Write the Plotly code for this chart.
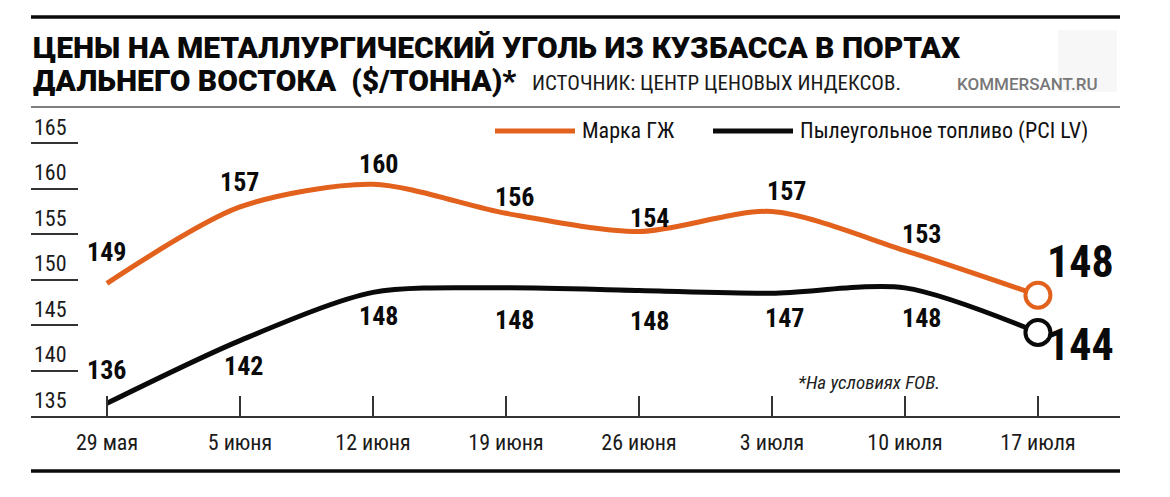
import plotly.graph_objects as go

# data
dates = ['29 мая', '5 июня', '12 июня', '19 июня', '26 июня', '3 июля', '10 июля', '17 июля']
gzh_price = [149.6, 158.0, 160.5, 157.3, 155.3, 157.5, 153.2, 148.3]   # Марка ГЖ, as drawn
gzh_label = [149, 157, 160, 156, 154, 157, 153, 148]                  # printed values
pci_price = [136.4, 143.3, 148.6, 149.1, 148.8, 148.5, 149.1, 144.2]   # PCI LV, as drawn
pci_label = [136, 142, 148, 148, 148, 147, 148, 144]
y_ticks = [135, 140, 145, 150, 155, 160, 165]

ORANGE = '#e2611d'
BLACK = '#0a0a0a'
NARROW = 'Roboto Condensed, Liberation Sans Narrow, DejaVu Sans Condensed, Arial Narrow, Roboto, sans-serif'
HEAVY = 'Roboto, Liberation Sans, sans-serif'

OFF = 8  # the page body adds an 8px margin
W, H = 1170 - OFF, 497 - OFF
L, R, T, B = 31 - OFF, 50, 107 - OFF, 81

def px(x):  # page pixel -> paper x
    return (x - OFF - L) / (W - L - R)

def py(y):  # page pixel -> paper y
    return (H - B - (y - OFF)) / (H - T - B)

# label offsets (px) relative to each point
gzh_dx = [0, 0, 6, 9, 11, 15, 17, 43]
gzh_dy = [31, 25, 20, 16, 14, 21, 17, 33]
pci_dx = [0, 4, 6, 9, 11, 13, 17, 43]
pci_dy = [33, -25, -24, -32, -30, -25, -30, -13]

fig = go.Figure()

fig.add_trace(go.Scatter(x=dates, y=gzh_price, mode='lines', name='Марка ГЖ',
                         line=dict(color=ORANGE, width=5, shape='spline', smoothing=0.8)))
fig.add_trace(go.Scatter(x=dates, y=pci_price, mode='lines', name='Пылеугольное топливо (PCI LV)',
                         line=dict(color=BLACK, width=5, shape='spline', smoothing=0.8)))
# open circles on the last week
fig.add_trace(go.Scatter(x=dates[-1:], y=gzh_price[-1:], mode='markers',
                         marker=dict(size=25, color='white', line=dict(color=ORANGE, width=4))))
fig.add_trace(go.Scatter(x=dates[-1:], y=pci_price[-1:], mode='markers',
                         marker=dict(size=25, color='white', line=dict(color=BLACK, width=4))))

annotations = []
n = len(dates)
for i in range(n):
    big = i == n - 1
    annotations.append(dict(x=dates[i], y=gzh_price[i], text=str(gzh_label[i]), showarrow=False,
                            xshift=gzh_dx[i], yshift=gzh_dy[i],
                            font=dict(family=NARROW, size=44 if big else 26, color=BLACK, weight='bold')))
    annotations.append(dict(x=dates[i], y=pci_price[i], text=str(pci_label[i]), showarrow=False,
                            xshift=pci_dx[i], yshift=pci_dy[i],
                            font=dict(family=NARROW, size=44 if big else 26, color=BLACK, weight='bold')))

# title block
annotations += [
    dict(xref='paper', yref='paper', x=px(31), y=py(48), xanchor='left', yanchor='middle', showarrow=False,
         text='ЦЕНЫ НА МЕТАЛЛУРГИЧЕСКИЙ УГОЛЬ ИЗ КУЗБАССА В ПОРТАХ',
         font=dict(family=HEAVY, size=30, color=BLACK, weight=900)),
    dict(xref='paper', yref='paper', x=px(31), y=py(80), xanchor='left', yanchor='middle', showarrow=False,
         text='ДАЛЬНЕГО ВОСТОКА  ($/ТОННА)*',
         font=dict(family=HEAVY, size=30, color=BLACK, weight=900)),
    dict(xref='paper', yref='paper', x=px(530), y=py(83), xanchor='left', yanchor='middle', showarrow=False,
         text='ИСТОЧНИК: ЦЕНТР ЦЕНОВЫХ ИНДЕКСОВ.',
         font=dict(family=NARROW, size=21, color='#1a1a1a')),
    dict(xref='paper', yref='paper', x=px(955), y=py(84), xanchor='left', yanchor='middle', showarrow=False,
         text='KOMMERSANT.RU',
         font=dict(family=HEAVY, size=17, color='#777777', weight=500)),
    # legend
    dict(xref='paper', yref='paper', x=px(580), y=py(131), xanchor='left', yanchor='middle', showarrow=False,
         text='Марка ГЖ', font=dict(family=NARROW, size=22, color='#111111')),
    dict(xref='paper', yref='paper', x=px(798), y=py(131), xanchor='left', yanchor='middle', showarrow=False,
         text='Пылеугольное топливо (PCI LV)', font=dict(family=NARROW, size=22, color='#111111')),
    # footnote
    dict(xref='paper', yref='paper', x=px(796), y=py(382), xanchor='left', yanchor='middle', showarrow=False,
         text='<i>*На условиях FOB.</i>', font=dict(family=NARROW, size=19, color='#222222')),
]

shapes = [
    dict(type='line', xref='paper', yref='paper', x0=px(31), x1=px(1120), y0=py(17), y1=py(17),
         line=dict(color=BLACK, width=3.5)),
    dict(type='line', xref='paper', yref='paper', x0=px(31), x1=px(1120), y0=py(107), y1=py(107),
         line=dict(color='#555555', width=1.5)),
    dict(type='line', xref='paper', yref='paper', x0=px(31), x1=px(1120), y0=py(471), y1=py(471),
         line=dict(color=BLACK, width=3.5)),
    dict(type='line', xref='paper', yref='paper', x0=px(495), x1=px(575), y0=py(131), y1=py(131),
         line=dict(color=ORANGE, width=5)),
    dict(type='line', xref='paper', yref='paper', x0=px(713), x1=px(793), y0=py(131), y1=py(131),
         line=dict(color=BLACK, width=5)),
    # watermark box
    dict(type='rect', xref='paper', yref='paper', x0=px(1058), x1=px(1117), y0=py(30), y1=py(92),
         fillcolor='rgba(246,246,246,0.9)', line=dict(width=0), layer='below'),
]

fig.update_layout(
    width=W, height=H,
    margin=dict(l=L, r=R, t=T, b=B),
    paper_bgcolor='white', plot_bgcolor='white',
    showlegend=False,
    annotations=annotations,
    shapes=shapes,
    xaxis=dict(type='category', range=[-0.571, 7.617], showgrid=False, zeroline=False,
               showline=True, linecolor='#333333', linewidth=1.5,
               ticks='inside', ticklen=20, tickwidth=1.5, tickcolor='#333333',
               ticklabelstandoff=6,
               tickfont=dict(family=NARROW, size=22, color='#1a1a1a')),
    yaxis=dict(range=[135, 169], tickvals=y_ticks, showgrid=False, zeroline=False, showline=False,
               ticks='inside', ticklen=47, tickwidth=1.5, tickcolor='#333333',
               ticklabelposition='inside top',
               tickfont=dict(family=NARROW, size=22, color='#1a1a1a')),
)

fig.write_html('out.html')
